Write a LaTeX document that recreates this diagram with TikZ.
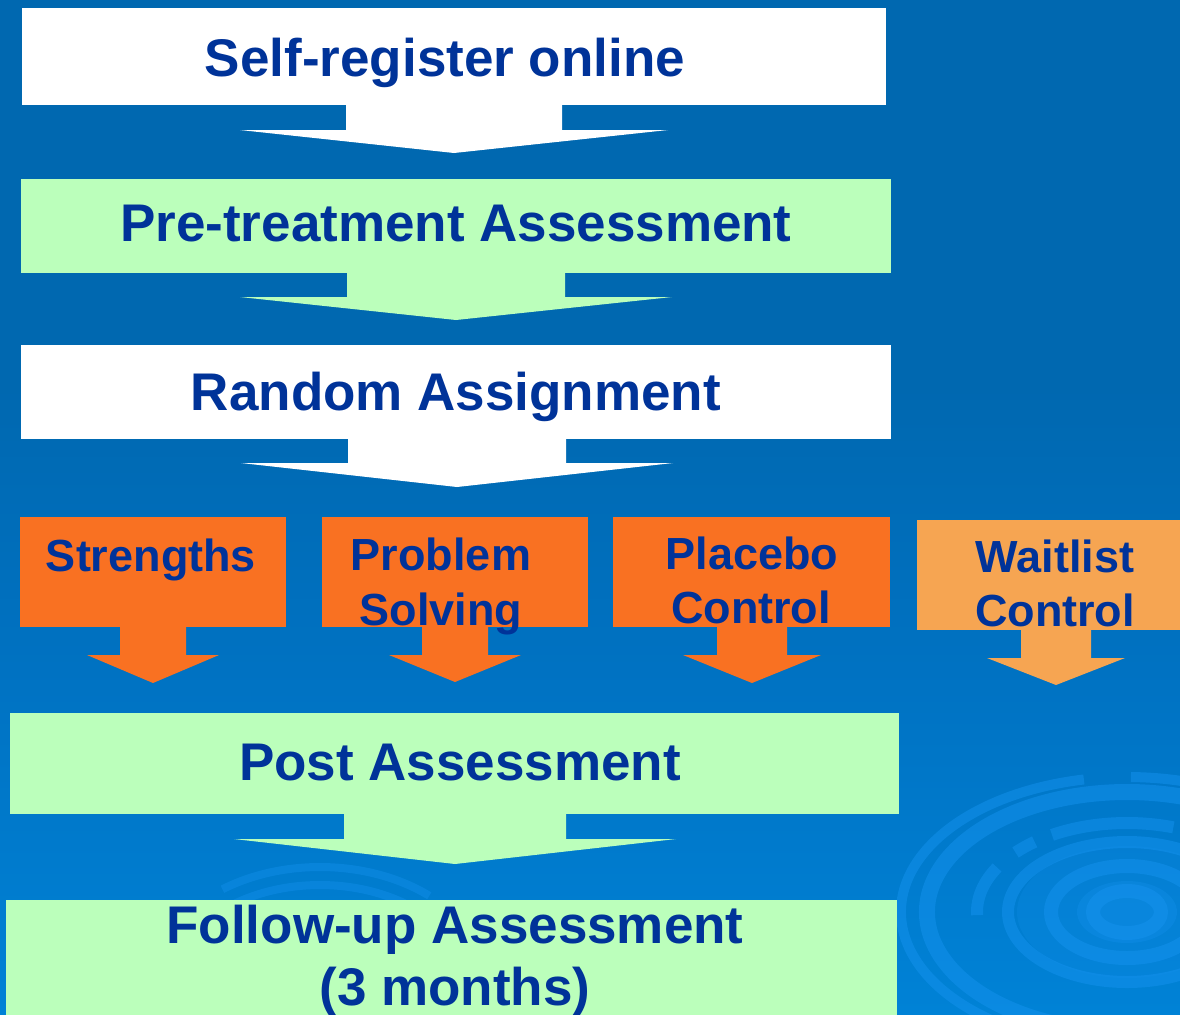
\documentclass[tikz,border=0pt]{standalone}
\usepackage{fontspec}
\setmainfont{Liberation Sans}
\definecolor{bgtop}{HTML}{0068B0}
\definecolor{bgmid}{HTML}{0072C2}
\definecolor{bgbot}{HTML}{0082D6}
\definecolor{ring}{HTML}{1592EE}
\definecolor{ink}{HTML}{003399}
\definecolor{mint}{HTML}{BBFFBB}
\definecolor{orangeA}{HTML}{F97122}
\definecolor{orangeB}{HTML}{F6A552}
% the shaded path spans 25bp..75bp of this shading
\pgfdeclareverticalshading{backdrop}{100bp}{color(0bp)=(bgbot); color(25bp)=(bgbot); color(42bp)=(bgmid); color(56bp)=(bgtop); color(100bp)=(bgtop)}
% down-pointing block arrow hanging below a box:
% #1 centre x, #2 stem half width, #3 head half width, #4 box bottom, #5 stem bottom, #6 tip y
\newcommand\dnarrow[6]{(#1-#2,#4) -- (#1-#2,#5) -- (#1-#3,#5) -- (#1,#6) -- (#1+#3,#5) -- (#1+#2,#5) -- (#1+#2,#4) -- cycle}
\begin{document}
\begin{tikzpicture}[x=0.5pt,y=-0.5pt,
  big/.style={font=\fontsize{26.5pt}{32pt}\selectfont\bfseries, text=ink, inner sep=0pt, anchor=base},
  mid/.style={font=\fontsize{22.5pt}{27pt}\selectfont\bfseries, text=ink, inner sep=0pt, anchor=base},
  swirl/.style={draw=ring, opacity=0.5, line width=#1},
  swirl/.default=6pt]
\useasboundingbox (0,0) rectangle (1180,1014);
% backdrop
\shade[shading=backdrop] (0,0) rectangle (1180,1014);
% ripple rings, lower right
\begin{scope}[shift={(1127,912)}]
  \fill[ring, opacity=0.3] (0,0) ellipse [x radius=50, y radius=31];
  \fill[ring, opacity=0.2] (0,0) ellipse [x radius=110, y radius=66];
  \draw[swirl=7pt] (0,0) ellipse [x radius=34, y radius=21];
  \draw[swirl=7pt] (0,0) ellipse [x radius=76, y radius=46];
  \draw[swirl=6pt] (0,0) ellipse [x radius=119, y radius=70];
  \draw[swirl=6pt] (178:150 and 89) arc [start angle=178, end angle=210, x radius=150, y radius=89];
  \draw[swirl=6pt] (222:150 and 89) arc [start angle=222, end angle=232, x radius=150, y radius=89];
  \draw[swirl=6pt] (240:150 and 89) arc [start angle=240, end angle=288, x radius=150, y radius=89];
  \draw[swirl=8pt] (110:200 and 120) arc [start angle=110, end angle=300, x radius=200, y radius=120];
  \draw[swirl=5pt] (120:226 and 135) arc [start angle=120, end angle=259, x radius=226, y radius=135];
  \draw[swirl=5pt] (271:226 and 135) arc [start angle=271, end angle=300, x radius=226, y radius=135];
\end{scope}
% faint rings, lower left
\begin{scope}[shift={(320,990)}]
  \draw[swirl=4pt, opacity=0.4] (235:170 and 123) arc [start angle=235, end angle=310, x radius=170, y radius=123];
  \draw[swirl=4pt, opacity=0.4] (215:150 and 105) arc [start angle=215, end angle=320, x radius=150, y radius=105];
\end{scope}

% step 1
\fill[white] (22,8) rectangle (886,105);
\fill[white] \dnarrow{454}{108}{214}{104}{130}{153};
\node[big] (reg) at (445,76) {Self-register online};
% step 2
\fill[mint] (21,179) rectangle (891,273);
\fill[mint] \dnarrow{456}{109}{216}{272}{297}{320};
\node[big] (pre) at (456,241) {Pre-treatment Assessment};
% step 3
\fill[white] (21,345) rectangle (891,439);
\fill[white] \dnarrow{457}{109}{216}{438}{463}{487};
\node[big] (rand) at (456,410) {Random Assignment};
% four conditions
\fill[orangeA] (20,517) rectangle (286,627);
\fill[orangeA] \dnarrow{153}{33}{66}{626}{655}{683};
\node[mid] (str) at (151,571) {Strengths};
\fill[orangeA] (322,517) rectangle (588,627);
\fill[orangeA] \dnarrow{455}{33}{66}{626}{655}{682};
\node[mid] (ps1) at (441,570) {Problem};
\node[mid] (ps2) at (441,625) {Solving};
\fill[orangeA] (613,517) rectangle (890,627);
\fill[orangeA] \dnarrow{752}{35}{69}{626}{655}{683};
\node[mid] (pc1) at (752,569) {Placebo};
\node[mid] (pc2) at (751,623) {Control};
\fill[orangeB] (917,520) rectangle (1180,630);
\fill[orangeB] \dnarrow{1056}{35}{69}{629}{658}{685};
\node[mid] (wc1) at (1055,572) {Waitlist};
\node[mid] (wc2) at (1055,626) {Control};
% post
\fill[mint] (10,713) rectangle (899,814);
\fill[mint] \dnarrow{455}{111}{221}{813}{839}{864};
\node[big] (post) at (460,780) {Post Assessment};
% follow-up
\fill[mint] (6,900) rectangle (897,1020);
\node[big] (fu1) at (455,943) {Follow-up Assessment};
\node[big] (fu2) at (455,1005) {(3 months)};
\end{tikzpicture}
\end{document}
